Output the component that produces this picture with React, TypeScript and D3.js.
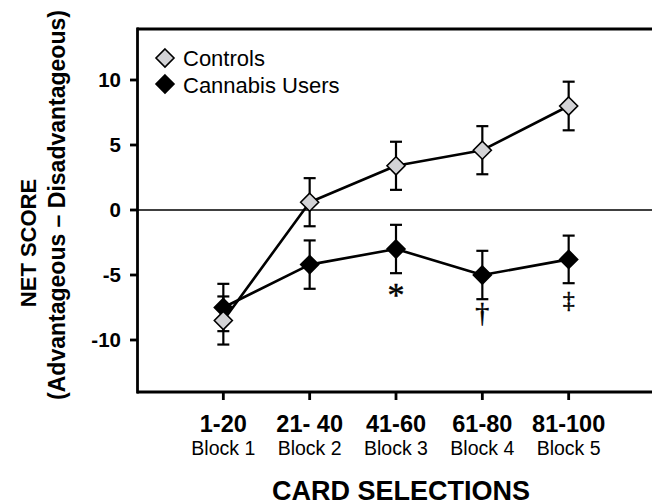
import React from "react";
import * as d3 from "d3";

// Iowa Gambling Task net score by block of 20 card selections
const blocks = ["1-20", "21- 40", "41-60", "61-80", "81-100"];
const blockNames = ["Block 1", "Block 2", "Block 3", "Block 4", "Block 5"];
const controlsMean = [-8.5, 0.6, 3.4, 4.6, 8.0];
const controlsSE = [1.85, 1.85, 1.85, 1.85, 1.87];
const cannabisMean = [-7.5, -4.2, -3.0, -5.0, -3.8];
const cannabisSE = [1.82, 1.86, 1.86, 1.86, 1.83];
const significance = ["", "", "*", "\u2020", "\u2021"];
const yTicks = [-10, -5, 0, 5, 10];

const W = 652;
const H = 503;
const SANS = "'Liberation Sans', Arial, Helvetica, sans-serif";
const SERIF = "'Liberation Serif', 'Times New Roman', serif";

const x = d3.scaleLinear().domain([0, 6]).range([137, 655]);
const y = d3.scaleLinear().domain([-14, 14]).range([392, 28]);

const diamond = (cx: number, cy: number, r: number) =>
  `M${cx},${cy - r}L${cx + r},${cy}L${cx},${cy + r}L${cx - r},${cy}Z`;

type SeriesProps = { mean: number[]; se: number[]; fill: string };

function Series({ mean, se, fill }: SeriesProps) {
  const pts = mean.map((v, i) => [x(i + 1), y(v)] as [number, number]);
  const line = d3.line()(pts) ?? "";
  return (
    <g>
      <path d={line} fill="none" stroke="#000" strokeWidth={2.6} strokeLinejoin="round" />
      {mean.map((v, i) => {
        const cx = x(i + 1);
        const top = y(v + se[i]);
        const bot = y(v - se[i]);
        return (
          <g key={i} stroke="#000" strokeWidth={2.2}>
            <line x1={cx} x2={cx} y1={top} y2={bot} />
            <line x1={cx - 6} x2={cx + 6} y1={top} y2={top} />
            <line x1={cx - 6} x2={cx + 6} y1={bot} y2={bot} />
          </g>
        );
      })}
      {mean.map((v, i) => (
        <path key={i} d={diamond(x(i + 1), y(v), 9)} fill={fill} stroke="#000" strokeWidth={1.6} />
      ))}
    </g>
  );
}

export default function App() {
  return (
    <svg
      width={W}
      height={H}
      viewBox={`0 0 ${W} ${H}`}
      style={{ position: "absolute", left: 0, top: 0, background: "#fff" }}
    >
      <rect width={W} height={H} fill="#fff" />

      {/* frame */}
      <line x1={137} x2={W} y1={29} y2={29} stroke="#000" strokeWidth={2.8} />
      <line x1={137} x2={W} y1={392} y2={392} stroke="#000" strokeWidth={2.8} />
      <line x1={137.5} x2={137.5} y1={27.6} y2={393.4} stroke="#000" strokeWidth={2.8} />

      {/* zero reference */}
      <line x1={137} x2={W} y1={y(0)} y2={y(0)} stroke="#000" strokeWidth={1.3} />

      {/* y axis ticks */}
      {yTicks.map((t) => (
        <g key={t}>
          <line x1={130} x2={137} y1={y(t)} y2={y(t)} stroke="#000" strokeWidth={2.8} />
          <text
            x={121}
            y={y(t) + 7}
            textAnchor="end"
            fontFamily={SANS}
            fontWeight="bold"
            fontSize={20.5}
          >
            {t}
          </text>
        </g>
      ))}

      {/* x axis ticks and labels */}
      {blocks.map((b, i) => (
        <g key={b}>
          <line x1={x(i + 1)} x2={x(i + 1)} y1={392} y2={400} stroke="#000" strokeWidth={2.8} />
          <text
            x={x(i + 1)}
            y={432}
            textAnchor="middle"
            fontFamily={SANS}
            fontWeight="bold"
            fontSize={23.5}
          >
            {b}
          </text>
          <text x={x(i + 1)} y={455} textAnchor="middle" fontFamily={SANS} fontSize={19.5}>
            {blockNames[i]}
          </text>
        </g>
      ))}

      <text
        x={401}
        y={500}
        textAnchor="middle"
        fontFamily={SANS}
        fontWeight="bold"
        fontSize={27}
      >
        CARD SELECTIONS
      </text>

      {/* y axis title */}
      <text
        transform="translate(36,243) rotate(-90)"
        textAnchor="middle"
        fontFamily={SANS}
        fontWeight="bold"
        fontSize={22}
      >
        NET SCORE
      </text>
      <text
        transform="translate(65,205) rotate(-90)"
        textAnchor="middle"
        fontFamily={SANS}
        fontWeight="bold"
        fontSize={23}
      >
        (Advantageous – Disadvantageous)
      </text>

      {/* data series */}
      <Series mean={cannabisMean} se={cannabisSE} fill="#000" />
      <Series mean={controlsMean} se={controlsSE} fill="#d3d3d6" />

      {/* significance markers under cannabis users */}
      {significance.map((s, i) => {
        if (!s) return null;
        const cx = x(i + 1);
        const base = y(cannabisMean[i] - cannabisSE[i]);
        const size = s === "*" ? 34 : s === "\u2020" ? 28 : 24;
        const dy = s === "*" ? 33 : s === "\u2020" ? 23 : 25;
        return (
          <text
            key={i}
            x={cx}
            y={base + dy}
            textAnchor="middle"
            fontFamily={SERIF}
            fontSize={size}
            fill="#000"
            stroke="#000"
            strokeWidth={0.5}
          >
            {s}
          </text>
        );
      })}

      {/* legend */}
      <path d={diamond(165, 58, 9)} fill="#d3d3d6" stroke="#000" strokeWidth={1.6} />
      <text x={183} y={66} fontFamily={SANS} fontSize={22}>
        Controls
      </text>
      <path d={diamond(165, 84, 9)} fill="#000" stroke="#000" strokeWidth={1.6} />
      <text x={183} y={93} fontFamily={SANS} fontSize={22}>
        Cannabis Users
      </text>
    </svg>
  );
}
